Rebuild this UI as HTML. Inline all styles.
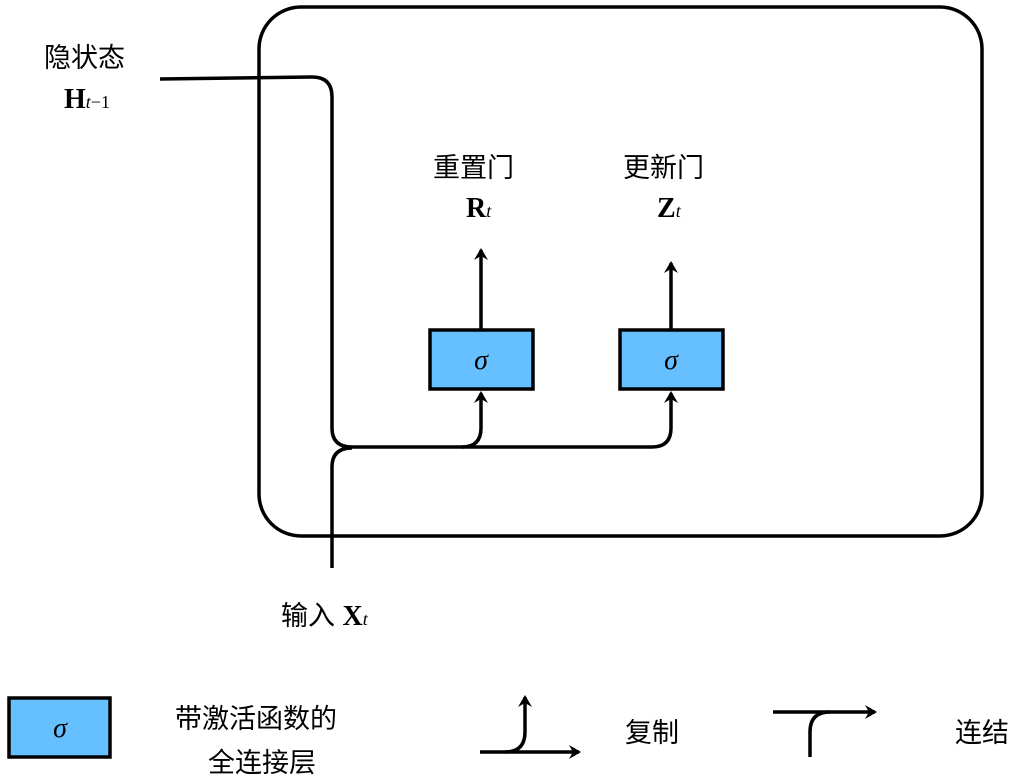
<!DOCTYPE html>
<html><head><meta charset="utf-8"><style>
body{margin:0;background:#fff;width:1025px;height:779px;overflow:hidden;font-family:"Liberation Sans","Noto Sans CJK SC",sans-serif}
.t{position:absolute;font-size:27px;color:#000;white-space:nowrap}
.m{font-family:"Liberation Serif",serif;font-weight:bold;font-size:28px}
.s{font-family:"Liberation Serif",serif;font-style:italic;font-weight:normal;font-size:18px}
</style></head><body>
<svg width="1025" height="779" style="position:absolute;left:0;top:0">
<defs><marker id="a" markerWidth="10" markerHeight="10" refX="8" refY="5" orient="auto" markerUnits="userSpaceOnUse"><path d="M0,0 L9,5 L0,10 L3,5 Z" fill="#000"/></marker>
<marker id="b" viewBox="0 0 12 14" markerWidth="12" markerHeight="14" refX="10" refY="7" orient="auto" markerUnits="userSpaceOnUse"><path d="M0,0 L12,7 L0,14 L4,7 Z" fill="#000"/></marker></defs>
<g fill="none" stroke="#000" stroke-width="3.5">
<rect x="259" y="7" width="723" height="529" rx="42"/>
<path d="M160,79 L312,77 Q332,77 332,97 L332,428 Q332,447 352,447 L462,447 Q481,447 481,428 L481,393" marker-end="url(#b)"/>
<path d="M462,447 L652,447 Q671,447 671,428 L671,393" marker-end="url(#b)"/>
<path d="M332,568 L332,467 Q332,448 352,448"/>
<path d="M481,330 L481,250" marker-end="url(#b)"/>
<path d="M671,330 L671,263" marker-end="url(#b)"/>
<path d="M480,752 L579,752" marker-end="url(#b)"/>
<path d="M505,752 Q525,752 525,732 L525,697" marker-end="url(#b)"/>
<path d="M773,712 L875,712" marker-end="url(#b)"/>
<path d="M810,757 L810,732 Q810,712 830,712"/>
</g>
<g fill="#66bfff" stroke="#000" stroke-width="3.5">
<rect x="430" y="330" width="103" height="59"/>
<rect x="620" y="330" width="103" height="59"/>
<rect x="9" y="698" width="101" height="59"/>
</g>
<g font-family="Liberation Serif,serif" font-style="italic" font-size="28" text-anchor="middle">
<text x="481" y="369">σ</text><text x="671" y="369">σ</text><text x="60" y="737">σ</text>
</g>
</svg>
<div class="t" style="left:44px;top:36px">隐状态</div>
<div class="t m" style="left:64px;top:84px">H<span class="s">t</span><span class="s" style="font-style:normal">−1</span></div>
<div class="t" style="left:433px;top:146px">重置门</div>
<div class="t m" style="left:466px;top:193px">R<span class="s">t</span></div>
<div class="t" style="left:623px;top:146px">更新门</div>
<div class="t m" style="left:657px;top:193px">Z<span class="s">t</span></div>
<div class="t" style="left:281px;top:594px">输入 <span class="m">X</span><span class="s">t</span></div>
<div class="t" style="left:175px;top:697px">带激活函数的</div>
<div class="t" style="left:208px;top:741px">全连接层</div>
<div class="t" style="left:625px;top:711px">复制</div>
<div class="t" style="left:955px;top:711px">连结</div>
</body></html>
